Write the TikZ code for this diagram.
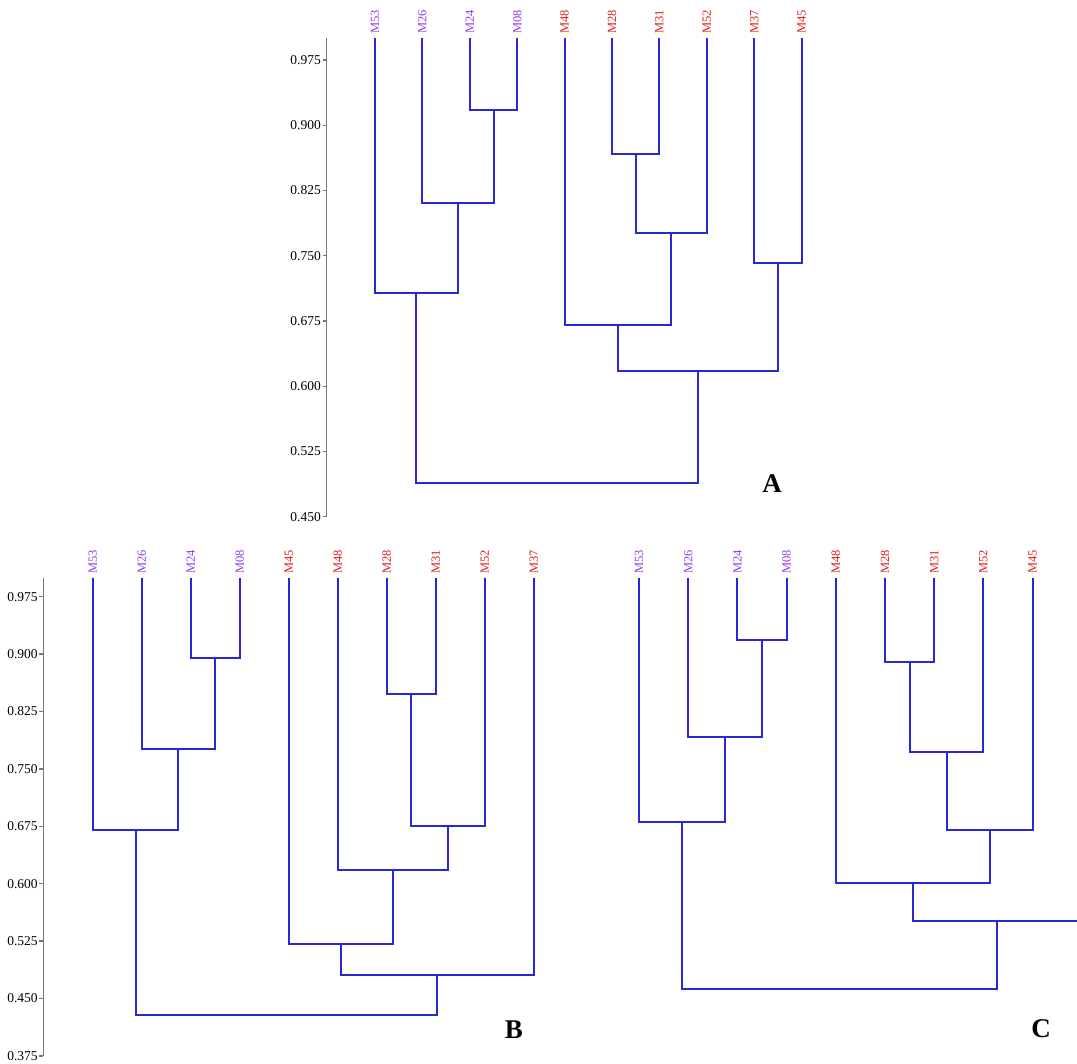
\documentclass[tikz,border=0pt]{standalone}
\usepackage{fontspec}
\setmainfont{Liberation Serif}
\usetikzlibrary{calc}
\definecolor{lpurple}{RGB}{150,60,230}
\definecolor{lred}{RGB}{225,30,30}
\definecolor{dblue}{RGB}{40,40,215}
\definecolor{axgray}{RGB}{120,120,120}
\newcommand\dleaf[5]{%
  \coordinate (#1) at (#2,#3);
  \node[leaflab,text=#5] (#1-l) at ([yshift=4pt]#1) {#4};}
\newcommand\dmerge[4]{%
  \coordinate (tmp) at ($(#2)!0.5!(#3)$);
  \coordinate (#1) at (tmp |- 0,#4);
  \draw[dline] (#2) |- (#1) -| (#3);}
\begin{document}
\begin{tikzpicture}[x=1pt,y=-1pt,
  dline/.style={draw=dblue,line width=2pt,line join=miter},
  axisline/.style={draw=axgray,line width=1.3pt},
  leaflab/.style={rotate=90,anchor=west,inner sep=0pt,font=\fontsize{12.5}{13}\selectfont},
  ticklab/.style={anchor=east,inner sep=0pt,font=\fontsize{13.5}{14}\selectfont},
  panlab/.style={inner sep=0pt,font=\fontsize{27}{28}\selectfont\bfseries}]
\useasboundingbox (0,0) rectangle (1077,1064);
\clip (0,0) rectangle (1077,1064);
\fill[white] (0,0) rectangle (1077,1064);

% ---------- Panel A ----------
\coordinate (Aax-top) at (326.5,38);
\coordinate (Aax-bot) at (326.5,516.7);
\draw[axisline] (Aax-top) -- (Aax-bot);
\foreach \k/\t in {0/0.975,1/0.900,2/0.825,3/0.750,4/0.675,5/0.600,6/0.525,7/0.450}{
  \coordinate (A-t\k) at (326.5,{60+\k*65.24});
  \draw[axisline] (A-t\k) -- ++(-4,0) node[ticklab,xshift=-1pt] (A-tl\k) {\t};
}
\dleaf{A53}{375}{38}{M53}{lpurple}
\dleaf{A26}{422.4}{38}{M26}{lpurple}
\dleaf{A24}{469.8}{38}{M24}{lpurple}
\dleaf{A08}{517.2}{38}{M08}{lpurple}
\dleaf{A48}{564.6}{38}{M48}{lred}
\dleaf{A28}{612.0}{38}{M28}{lred}
\dleaf{A31}{659.4}{38}{M31}{lred}
\dleaf{A52}{706.8}{38}{M52}{lred}
\dleaf{A37}{754.2}{38}{M37}{lred}
\dleaf{A45}{801.6}{38}{M45}{lred}
\dmerge{a1}{A24}{A08}{110}
\dmerge{a2}{A26}{a1}{202.7}
\dmerge{a3}{A53}{a2}{293}
\dmerge{a4}{A28}{A31}{154}
\dmerge{a5}{a4}{A52}{232.7}
\dmerge{a6}{A37}{A45}{262.7}
\dmerge{a7}{A48}{a5}{325}
\dmerge{a8}{a7}{a6}{371}
\dmerge{a9}{a3}{a8}{483.5}
\node[panlab] (labA) at (772,484) {A};

% ---------- Panel B ----------
\coordinate (Bax-top) at (43.3,578);
\coordinate (Bax-bot) at (43.3,1055.9);
\draw[axisline] (Bax-top) -- (Bax-bot);
\foreach \k/\t in {0/0.975,1/0.900,2/0.825,3/0.750,4/0.675,5/0.600,6/0.525,7/0.450,8/0.375}{
  \coordinate (B-t\k) at (43.3,{596.7+\k*57.4});
  \draw[axisline] (B-t\k) -- ++(-4,0) node[ticklab,xshift=-1pt] (B-tl\k) {\t};
}
\dleaf{B53}{92.7}{578}{M53}{lpurple}
\dleaf{B26}{141.7}{578}{M26}{lpurple}
\dleaf{B24}{190.7}{578}{M24}{lpurple}
\dleaf{B08}{239.7}{578}{M08}{lpurple}
\dleaf{B45}{288.7}{578}{M45}{lred}
\dleaf{B48}{337.7}{578}{M48}{lred}
\dleaf{B28}{386.7}{578}{M28}{lred}
\dleaf{B31}{435.7}{578}{M31}{lred}
\dleaf{B52}{484.7}{578}{M52}{lred}
\dleaf{B37}{533.7}{578}{M37}{lred}
\dmerge{b1}{B24}{B08}{658.3}
\dmerge{b2}{B26}{b1}{749}
\dmerge{b3}{B53}{b2}{830}
\dmerge{b4}{B28}{B31}{694}
\dmerge{b5}{b4}{B52}{825.7}
\dmerge{b6}{B48}{b5}{870}
\dmerge{b7}{B45}{b6}{944}
\dmerge{b8}{b7}{B37}{974.5}
\dmerge{b9}{b3}{b8}{1015}
\node[panlab] (labB) at (514,1030) {B};

% ---------- Panel C ----------
\dleaf{C53}{639}{578}{M53}{lpurple}
\dleaf{C26}{688.2}{578}{M26}{lpurple}
\dleaf{C24}{737.4}{578}{M24}{lpurple}
\dleaf{C08}{786.6}{578}{M08}{lpurple}
\dleaf{C48}{835.8}{578}{M48}{lred}
\dleaf{C28}{885.0}{578}{M28}{lred}
\dleaf{C31}{934.2}{578}{M31}{lred}
\dleaf{C52}{983.4}{578}{M52}{lred}
\dleaf{C45}{1032.6}{578}{M45}{lred}
\dleaf{C37}{1081.8}{578}{M37}{lred}
\dmerge{c1}{C24}{C08}{640.3}
\dmerge{c2}{C26}{c1}{737}
\dmerge{c3}{C53}{c2}{822.3}
\dmerge{c4}{C28}{C31}{661.7}
\dmerge{c5}{c4}{C52}{752.3}
\dmerge{c6}{c5}{C45}{830}
\dmerge{c7}{C48}{c6}{883.3}
\dmerge{c8}{c7}{C37}{921}
\dmerge{c9}{c3}{c8}{989.3}
\node[panlab] (labC) at (1041,1029) {C};
\end{tikzpicture}
\end{document}
